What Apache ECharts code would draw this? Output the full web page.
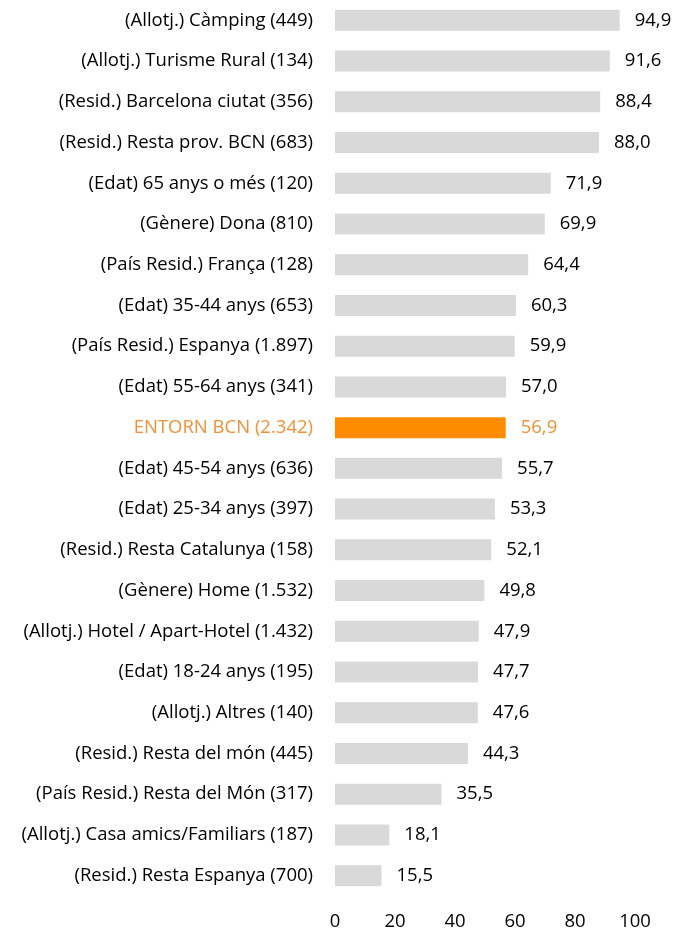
<!DOCTYPE html>
<html>
<head>
<meta charset="utf-8">
<script src="https://cdn.jsdelivr.net/npm/echarts@6/dist/echarts.min.js"></script>
<style>
  html, body { margin: 0; padding: 0; background: #fff; }
  #chart { width: 674px; height: 932px; }
</style>
</head>
<body>
<div id="chart"></div>
<script>
// categories from top to bottom
const categories = [
  '(Allotj.) Càmping (449)',
  '(Allotj.) Turisme Rural (134)',
  '(Resid.) Barcelona ciutat (356)',
  '(Resid.) Resta prov. BCN (683)',
  '(Edat) 65 anys o més (120)',
  '(Gènere) Dona (810)',
  '(País Resid.) França (128)',
  '(Edat) 35-44 anys (653)',
  '(País Resid.) Espanya (1.897)',
  '(Edat) 55-64 anys (341)',
  'ENTORN BCN (2.342)',
  '(Edat) 45-54 anys (636)',
  '(Edat) 25-34 anys (397)',
  '(Resid.) Resta Catalunya (158)',
  '(Gènere) Home (1.532)',
  '(Allotj.) Hotel / Apart-Hotel (1.432)',
  '(Edat) 18-24 anys (195)',
  '(Allotj.) Altres (140)',
  '(Resid.) Resta del món (445)',
  '(País Resid.) Resta del Món (317)',
  '(Allotj.) Casa amics/Familiars (187)',
  '(Resid.) Resta Espanya (700)'
];
const values = [94.9, 91.6, 88.4, 88.0, 71.9, 69.9, 64.4, 60.3, 59.9, 57.0, 56.9,
  55.7, 53.3, 52.1, 49.8, 47.9, 47.7, 47.6, 44.3, 35.5, 18.1, 15.5];
const highlight = 'ENTORN BCN (2.342)';
const xTicks = [0, 20, 40, 60, 80, 100];

const orange = '#FF8C00';
const orangeText = '#F39035';
const grey = '#D9D9D9';
const font = 'Open Sans';
const fsize = 18.5;

let chart = echarts.init(document.getElementById('chart'));

let data = [];
values.forEach((v, i) => {
  let hl = categories[i] == highlight;
  data.push({
    value: v,
    itemStyle: { color: hl ? orange : grey },
    label: { color: hl ? orangeText : '#000' }
  });
});

const option = {
  animation: false,
  grid: { left: 335, right: 39, top: 0, bottom: 36 },
  xAxis: {
    type: 'value',
    min: xTicks[0],
    max: xTicks[xTicks.length - 1],
    interval: 20,
    splitLine: { show: false },
    axisLine: { show: false },
    axisTick: { show: false },
    axisLabel: { fontFamily: font, fontSize: fsize, color: '#000', margin: 16 }
  },
  yAxis: {
    type: 'category',
    inverse: true,
    data: categories,
    axisLine: { show: false },
    axisTick: { show: false },
    axisLabel: {
      fontFamily: font,
      fontSize: fsize,
      margin: 22,
      color: (val) => val == highlight ? orangeText : '#000'
    }
  },
  series: [
    {
      type: 'bar',
      data: data,
      barWidth: 21,
      label: {
        show: true,
        position: 'right',
        distance: 15,
        fontFamily: font,
        fontSize: fsize,
        formatter: (p) => p.value.toFixed(1).replace('.', ',')
      }
    }
  ]
};

chart.setOption(option);
</script>
</body>
</html>
